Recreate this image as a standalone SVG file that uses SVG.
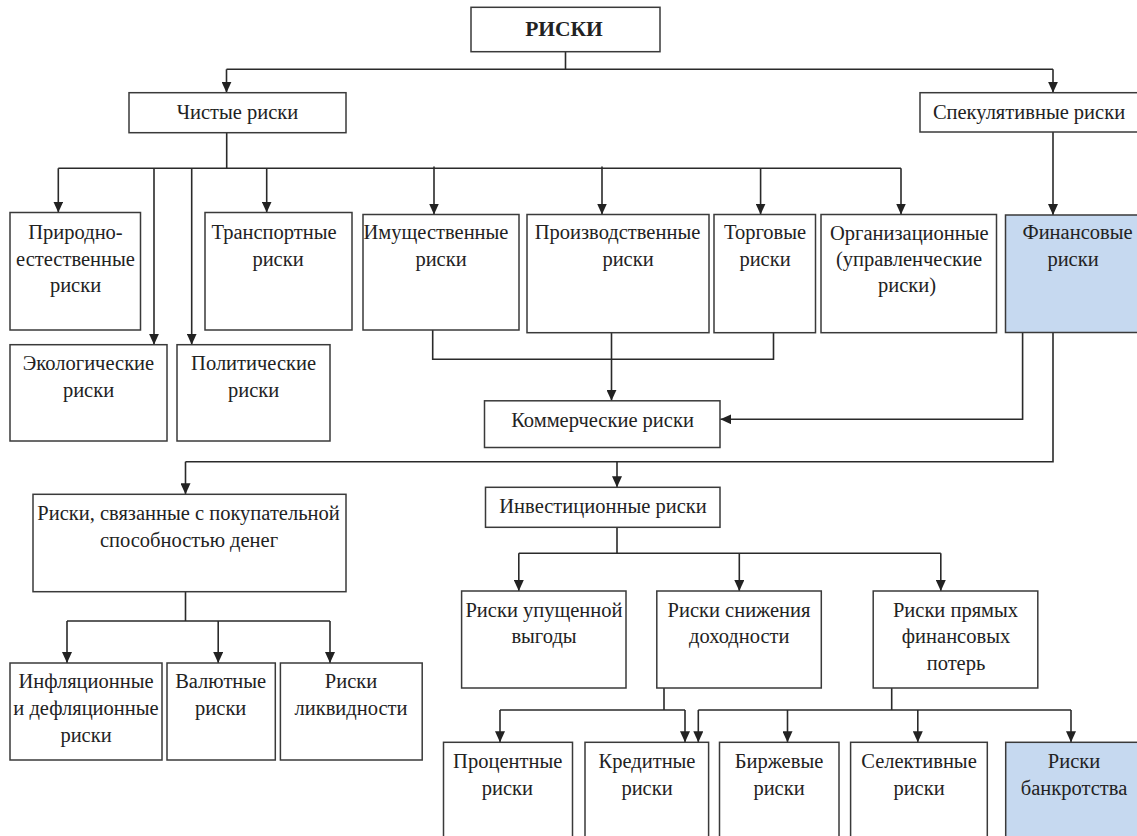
<svg xmlns="http://www.w3.org/2000/svg" width="1137" height="836" viewBox="0 0 1137 836">
  <defs>
    <marker id="arrow" viewBox="0 0 11 10" refX="11" refY="5" markerWidth="11" markerHeight="10" markerUnits="userSpaceOnUse" orient="auto">
      <path d="M0,0 L11,5 L0,10 z" fill="#222"/>
    </marker>
    <style>
      .box { fill: #ffffff; stroke: #3a3a3a; stroke-width: 1.5; }
      .fin { fill: #c6d9f0; stroke: #3a3a3a; stroke-width: 1.5; }
      text { font-family: "Liberation Serif", "Times New Roman", serif; font-size: 20.5px; fill: #222; text-anchor: middle; }
      .title { font-weight: bold; font-size: 21.5px; }
      .line { fill: none; stroke: #2a2a2a; stroke-width: 1.6; }
      .arr { fill: none; stroke: #2a2a2a; stroke-width: 1.6; marker-end: url(#arrow); }
    </style>
  </defs>
  <rect width="1137" height="836" fill="#ffffff"/>

  <!-- connectors -->
  <g id="connectors">
    <!-- root -->
    <path class="line" d="M565.5,51.7 V69.3 M226.5,69.3 H1053"/>
    <path class="arr" d="M226.5,69.3 V92.7"/>
    <path class="arr" d="M1053,69.3 V92.7"/>

    <!-- pure risks -->
    <path class="line" d="M226.7,132.7 V168.3 M58.3,168.3 H901"/>
    <path class="arr" d="M58.3,168.3 V212.5"/>
    <path class="arr" d="M154,168.3 V344.7"/>
    <path class="arr" d="M191.7,168.3 V344.7"/>
    <path class="arr" d="M266.7,168.3 V212.5"/>
    <path class="arr" d="M434,166.5 V214.5"/>
    <path class="arr" d="M602,166.5 V214.5"/>
    <path class="arr" d="M760.6,168.3 V214.5"/>
    <path class="arr" d="M901,168.3 V214.5"/>

    <!-- speculative risks -->
    <path class="arr" d="M1053,132 V215"/>

    <!-- commercial risks -->
    <path class="line" d="M432.7,330 V359.3 H773.5 V332.7"/>
    <path class="arr" d="M611.5,332.7 V400.8"/>
    <path class="arr" d="M1022.6,332.5 V419.3 H720.3"/>

    <!-- financial risks branch -->
    <path class="line" d="M1053,332.5 V461.7 H185.5"/>
    <path class="arr" d="M185.5,461.7 V494.3"/>
    <path class="arr" d="M617,461.7 V487.3"/>

    <!-- purchasing power -->
    <path class="line" d="M185.5,591.7 V621 M67,621 H330"/>
    <path class="arr" d="M67,621 V663"/>
    <path class="arr" d="M218.2,621 V663"/>
    <path class="arr" d="M330,621 V663"/>

    <!-- investment -->
    <path class="line" d="M617,527.3 V553.3 M518.8,553.3 H940.8"/>
    <path class="arr" d="M518.8,553.3 V591"/>
    <path class="arr" d="M739.3,553.3 V591"/>
    <path class="arr" d="M940.8,553.3 V591"/>

    <!-- yield decrease -->
    <path class="line" d="M664,688 V710 M500,710 H685"/>
    <path class="arr" d="M500,710 V742.3"/>
    <path class="arr" d="M685,710 V742.3"/>

    <!-- direct losses -->
    <path class="line" d="M891.7,688 V710 M698.3,710 H1071"/>
    <path class="arr" d="M698.3,710 V742.3"/>
    <path class="arr" d="M787.5,710 V742.3"/>
    <path class="arr" d="M917.8,710 V742.3"/>
    <path class="arr" d="M1071,710 V742.3"/>
  </g>

  <!-- nodes -->
  <g id="root">
    <rect class="box" x="471" y="7.3" width="189" height="44.4"/>
    <text class="title" x="564" y="35.7">РИСКИ</text>
  </g>
  <g id="pure">
    <rect class="box" x="129" y="92.7" width="217" height="40"/>
    <text x="237.5" y="118.5">Чистые риски</text>
  </g>
  <g id="speculative">
    <rect class="box" x="920" y="92.7" width="225" height="39.3"/>
    <text x="1029" y="118.5">Спекулятивные риски</text>
  </g>

  <g id="natural">
    <rect class="box" x="10" y="212.5" width="130.5" height="117.5"/>
    <text x="75.5" y="239.3">Природно-</text>
    <text x="75.5" y="265.5">естественные</text>
    <text x="75.5" y="291.5">риски</text>
  </g>
  <g id="transport">
    <rect class="box" x="205" y="212.5" width="147" height="117.5"/>
    <text x="274" y="239.3">Транспортные</text>
    <text x="278" y="265.5">риски</text>
  </g>
  <g id="property">
    <rect class="box" x="363" y="214.5" width="156" height="115.5"/>
    <text x="436" y="239.3">Имущественные</text>
    <text x="441" y="265.5">риски</text>
  </g>
  <g id="production">
    <rect class="box" x="527" y="214.5" width="182" height="118.2"/>
    <text x="617.5" y="239.3">Производственные</text>
    <text x="628" y="265.5">риски</text>
  </g>
  <g id="trade">
    <rect class="box" x="714" y="214.5" width="101.5" height="118.2"/>
    <text x="765" y="239.3">Торговые</text>
    <text x="765" y="265.5">риски</text>
  </g>
  <g id="organizational">
    <rect class="box" x="821" y="214.5" width="175.5" height="118.2"/>
    <text x="909.3" y="240">Организационные</text>
    <text x="909" y="266.3">(управленческие</text>
    <text x="907" y="292.3">риски)</text>
  </g>
  <g id="financial">
    <rect class="fin" x="1005.5" y="215" width="140" height="117.5"/>
    <text x="1077.5" y="239.3">Финансовые</text>
    <text x="1073" y="265.5">риски</text>
  </g>

  <g id="ecological">
    <rect class="box" x="10" y="344.7" width="157" height="96.3"/>
    <text x="88.5" y="370">Экологические</text>
    <text x="88.5" y="396.7">риски</text>
  </g>
  <g id="political">
    <rect class="box" x="177" y="344.7" width="153" height="96.3"/>
    <text x="253.6" y="370">Политические</text>
    <text x="253.6" y="396.7">риски</text>
  </g>

  <g id="commercial">
    <rect class="box" x="484.5" y="400.8" width="235.5" height="46.7"/>
    <text x="602.5" y="426.5">Коммерческие риски</text>
  </g>

  <g id="purchasing-power">
    <rect class="box" x="33" y="494.3" width="313" height="97.4"/>
    <text x="188.5" y="520.3">Риски, связанные с покупательной</text>
    <text x="189" y="547">способностью денег</text>
  </g>
  <g id="investment">
    <rect class="box" x="485.5" y="487.3" width="234.5" height="40"/>
    <text x="603" y="512.8">Инвестиционные риски</text>
  </g>

  <g id="inflation">
    <rect class="box" x="10" y="663" width="152" height="97"/>
    <text x="86" y="688.3">Инфляционные</text>
    <text x="86" y="715">и дефляционные</text>
    <text x="86" y="741.7">риски</text>
  </g>
  <g id="currency">
    <rect class="box" x="167" y="663" width="108.3" height="97"/>
    <text x="220.7" y="688.3">Валютные</text>
    <text x="220.7" y="715">риски</text>
  </g>
  <g id="liquidity">
    <rect class="box" x="280.4" y="663" width="141.8" height="97"/>
    <text x="351" y="688.3">Риски</text>
    <text x="351" y="715">ликвидности</text>
  </g>

  <g id="lost-profit">
    <rect class="box" x="461.6" y="591" width="164.4" height="97"/>
    <text x="544" y="616.7">Риски упущенной</text>
    <text x="544" y="643.3">выгоды</text>
  </g>
  <g id="yield-decrease">
    <rect class="box" x="656.8" y="591" width="164.5" height="97"/>
    <text x="739" y="616.7">Риски снижения</text>
    <text x="739.3" y="643.3">доходности</text>
  </g>
  <g id="direct-losses">
    <rect class="box" x="873.2" y="591" width="164.6" height="97"/>
    <text x="955.5" y="616.7">Риски прямых</text>
    <text x="956" y="643.3">финансовых</text>
    <text x="956" y="670">потерь</text>
  </g>

  <g id="interest">
    <rect class="box" x="443.5" y="742.3" width="129" height="110"/>
    <text x="507.7" y="768.3">Процентные</text>
    <text x="507.3" y="795">риски</text>
  </g>
  <g id="credit">
    <rect class="box" x="585" y="742.3" width="123.6" height="110"/>
    <text x="647" y="768.3">Кредитные</text>
    <text x="647" y="795">риски</text>
  </g>
  <g id="exchange">
    <rect class="box" x="719.5" y="742.3" width="119.5" height="110"/>
    <text x="779" y="768.3">Биржевые</text>
    <text x="779" y="795">риски</text>
  </g>
  <g id="selective">
    <rect class="box" x="850.6" y="742.3" width="136.7" height="110"/>
    <text x="919" y="768.3">Селективные</text>
    <text x="919" y="795">риски</text>
  </g>
  <g id="bankruptcy">
    <rect class="fin" x="1005.7" y="742.3" width="140" height="110"/>
    <text x="1074" y="768.3">Риски</text>
    <text x="1074" y="795">банкротства</text>
  </g>
</svg>
